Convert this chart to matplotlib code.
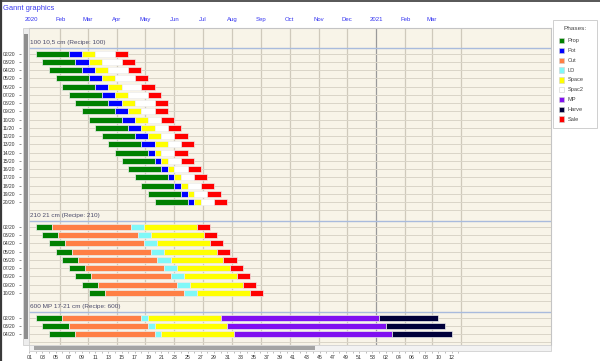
import numpy as np
import matplotlib
matplotlib.use("Agg")
import matplotlib.pyplot as plt
from matplotlib.patches import Rectangle

plt.rcParams['font.family'] = ['Liberation Sans', 'DejaVu Sans']

# phases and colours (legend order)
phases = ["Prop", "Pot", "Cut", "LD", "Space", "Spac2", "MP", "Harve", "Sale"]
phase_colors = ["#008000", "#0000FF", "#FF7F45", "#80F8F8", "#FFFF00",
                "#FFFFFF", "#8010F0", "#00003A", "#FF0000"]

# section 1 : durations in weeks
s1_title = "100 10,5 cm (Recipe: 100)"
s1_weeks = [2, 3, 4, 5, 6, 7, 8, 9, 10, 11, 12, 13, 14, 15, 16, 17, 18, 19, 20]
s1_prop = [5, 5, 5, 5, 5, 5, 5, 5, 5, 5, 5, 5, 5, 5, 5, 5, 5, 5, 5]
s1_pot = [2, 2, 2, 2, 2, 2, 2, 2, 2, 2, 2, 2, 1, 1, 1, 1, 1, 1, 1]
s1_space = [2, 2, 2, 2, 2, 2, 2, 2, 2, 2, 2, 2, 1, 1, 1, 1, 1, 1, 1]
s1_spac2 = [3, 3, 3, 3, 3, 3, 3, 2, 2, 2, 2, 2, 2, 2, 2, 2, 2, 2, 2]
s1_sale = [2, 2, 2, 2, 2, 2, 2, 2, 2, 2, 2, 2, 2, 2, 2, 2, 2, 2, 2]

# section 2
s2_title = "210 21 cm (Recipe: 210)"
s2_weeks = [2, 3, 4, 5, 6, 7, 8, 9, 10]
s2_prop = [2.4, 2.4, 2.4, 2.4, 2.4, 2.4, 2.4, 2.4, 2.4]
s2_cut = [12, 12, 12, 12, 12, 12, 12, 12, 12]
s2_ld = [2, 2, 2, 2, 2, 2, 2, 2, 2]
s2_space = [8, 8, 8, 8, 8, 8, 8, 8, 8]
s2_sale = [2, 2, 2, 2, 2, 2, 2, 2, 2]

# section 3
s3_title = "600 MP 17-21 cm (Recipe: 600)"
s3_weeks = [2, 3, 4]
s3_prop = [4, 4, 4]
s3_cut = [12, 12, 12]
s3_ld = [1, 1, 1]
s3_space = [11, 11, 11]
s3_mp = [24, 24, 24]
s3_harve = [9, 9, 9]

month_labels = ["2020", "Feb", "Mar", "Apr", "May", "Jun", "Jul", "Aug", "Sep",
                "Oct", "Nov", "Dec", "2021", "Feb", "Mar"]
month_dates = ["2020-01-01", "2020-02-01", "2020-03-01", "2020-04-01", "2020-05-01",
               "2020-06-01", "2020-07-01", "2020-08-01", "2020-09-01", "2020-10-01",
               "2020-11-01", "2020-12-01", "2021-01-01", "2021-02-01", "2021-03-01",
               "2021-04-01"]

sections = [
    (s1_title, s1_weeks, [("Prop", s1_prop), ("Pot", s1_pot), ("Space", s1_space),
                          ("Spac2", s1_spac2), ("Sale", s1_sale)]),
    (s2_title, s2_weeks, [("Prop", s2_prop), ("Cut", s2_cut), ("LD", s2_ld),
                          ("Space", s2_space), ("Sale", s2_sale)]),
    (s3_title, s3_weeks, [("Prop", s3_prop), ("Cut", s3_cut), ("LD", s3_ld),
                          ("Space", s3_space), ("MP", s3_mp), ("Harve", s3_harve)]),
]

W0 = np.datetime64("2019-12-30")  # start of ISO week 1, 2020


def week_x(d):
    return 1 + (np.datetime64(d) - W0).astype(int) / 7.0


color_of = dict(zip(phases, phase_colors))

fig = plt.figure(figsize=(6, 3.61), dpi=100)
fig.patch.set_facecolor("white")
ax = fig.add_axes([29 / 600, 1 - 345 / 361, 522 / 600, 317 / 361])
ax.set_facecolor("#F8F4E8")
# spine positions first: set_position resets the ticks
ax.spines["left"].set_position(("outward", 6))
ax.spines["left"].set_visible(False)
ax.spines["bottom"].set_position(("outward", 4))
ax.spines["bottom"].set_visible(False)
for s in ["top", "right"]:
    ax.spines[s].set_color("#C4C4C4")
    ax.spines[s].set_linewidth(0.8)

# month grid
for d in month_dates[1:]:
    c = "#9A9A9A" if d == "2021-01-01" else "#CFC9BB"
    ax.axvline(week_x(d), color=c, lw=0.9, zorder=1)

ytick_pos, ytick_lab = [], []
slot = 0
for title, weeks, parts in sections:
    n = len(weeks)
    ys = np.arange(slot, slot + n)
    for y in list(ys) + [slot + n]:
        ax.axhline(y, color="#DAD5C8", lw=0.7, zorder=1)
    ax.axhline(slot - 0.72, color="#A9BBDD", lw=1.0, zorder=1)
    ax.text(0.002, slot - 1.35, title, transform=ax.get_yaxis_transform(),
            fontsize=4.6, color="#4A4A6A", va="center", ha="left")
    left = np.array(weeks, dtype=float)
    for ph, durs in parts:
        ax.barh(ys, durs, left=left, height=0.72, color=color_of[ph],
                edgecolor="#EDEDED", linewidth=0.5, zorder=3)
        left = left + np.array(durs)
    ytick_pos += list(ys)
    ytick_lab += ["%02d/20" % w for w in weeks]
    slot = slot + n + 2

ax.set_xlim(0.955, 80.05)
ax.set_ylim(35.31, -3.115)

ax.set_yticks(ytick_pos)
ax.set_yticklabels(ytick_lab)
ax.tick_params(axis="y", length=1.5, width=0.5, pad=2.5, color="#666666",
               labelsize=3.6, labelcolor="#333333")

# bottom week axis
major = np.arange(1, 66, 2)
ax.set_xticks(major)
ax.set_xticklabels(["%02d" % (w if w <= 53 else w - 53) for w in major])
ax.set_xticks(np.arange(1, 67), minor=True)
ax.tick_params(axis="x", which="both", length=1.5, width=0.4, pad=1.5,
               color="#888888", labelsize=3.8, labelcolor="#333333")

# month labels on top
top = ax.secondary_xaxis("top")
top.set_xticks([week_x(d) for d in month_dates[:-1]])
top.set_xticklabels(month_labels)
top.tick_params(length=0, pad=4, labelsize=4.3, labelcolor="#3434F0")
top.spines["top"].set_visible(False)

# overlay for screen decorations
ov = fig.add_axes([0, 0, 1, 1], zorder=5)
ov.set_xlim(0, 600)
ov.set_ylim(361, 0)
ov.axis("off")
ov.add_patch(Rectangle((29, 345), 522, 6, facecolor="#F2F2F2", edgecolor="#C8C8C8", lw=0.5))
ov.add_patch(Rectangle((34, 346.2), 281, 3.6, facecolor="#A4A4A4", edgecolor="none"))
ov.add_patch(Rectangle((23, 28), 6, 317, facecolor="#EDEDED", edgecolor="#C8C8C8", lw=0.5))
ov.add_patch(Rectangle((24.3, 34), 3.4, 305, facecolor="#8E8E8E", edgecolor="none"))
ov.plot([0.8, 0.8], [0, 361], color="#3A3A3A", lw=1.6)
ov.plot([0, 600], [0.6, 0.6], color="#3A3A3A", lw=1.2)
ov.text(3, 8, "Gannt graphics", fontsize=5.4, color="#3C3CF0", va="center", ha="left")

# legend box
ov.add_patch(Rectangle((553, 20), 44, 108, facecolor="white", edgecolor="#C8C8C8", lw=0.6))
ov.text(575, 28, "Phases:", fontsize=4.6, color="#444444", ha="center", va="center")
for i, (ph, c) in enumerate(zip(phases, phase_colors)):
    yy = 40.7 + i * 9.8
    ov.add_patch(Rectangle((559, yy - 2.7), 5.4, 5.4, facecolor=c, edgecolor="#D0D0D0", lw=0.4))
    ov.text(568, yy, ph, fontsize=4.1, color="#444444", ha="left", va="center")

fig.savefig("out.png", dpi=100)
